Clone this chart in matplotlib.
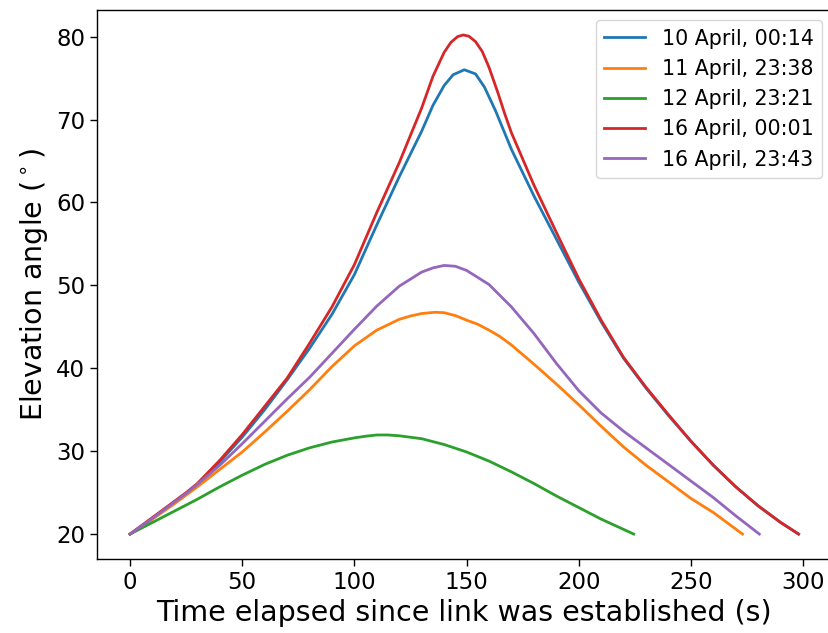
import matplotlib
matplotlib.use("Agg")
import matplotlib.pyplot as plt

# elevation angle (deg) vs time since link established (s)
t_10apr = [0, 10, 20, 25, 30, 40, 50, 60, 70, 80, 90, 100, 110, 120, 130, 135, 140, 144,
           149, 154, 158, 163, 170, 180, 190, 200, 210, 220, 230, 240, 250, 260, 270,
           280, 290, 298]
e_10apr = [20.0, 21.9, 23.9, 24.9, 26.0, 28.7, 31.7, 35.0, 38.6, 42.4, 46.5, 51.3, 57.3, 63.1,
           68.6, 71.7, 74.1, 75.4, 76.0, 75.5, 73.9, 71.0, 66.4, 60.8, 55.6, 50.4, 45.6, 41.2,
           37.6, 34.3, 31.2, 28.3, 25.7, 23.4, 21.4, 20.0]

t_11apr = [0, 10, 20, 25, 30, 40, 50, 60, 70, 80, 90, 100, 110, 120, 125, 130, 136, 140, 145,
           150, 155, 160, 165, 170, 180, 190, 200, 210, 220, 230, 240, 250, 260, 273]
e_11apr = [20.0, 21.8, 23.7, 24.7, 25.7, 27.8, 29.9, 32.3, 34.8, 37.4, 40.2, 42.7, 44.6, 45.9,
           46.3, 46.6, 46.75, 46.7, 46.35, 45.8, 45.3, 44.6, 43.8, 42.8, 40.5, 38.1, 35.6, 33.0,
           30.5, 28.3, 26.3, 24.3, 22.6, 20.0]

t_12apr = [0, 10, 20, 25, 30, 40, 50, 60, 70, 80, 90, 100, 105, 110, 115, 120, 130, 140, 150,
           160, 170, 180, 190, 200, 210, 224.5]
e_12apr = [20.0, 21.4, 22.8, 23.5, 24.2, 25.7, 27.1, 28.4, 29.5, 30.4, 31.1, 31.6, 31.8, 31.95,
           31.95, 31.85, 31.5, 30.8, 29.9, 28.8, 27.5, 26.1, 24.6, 23.2, 21.8, 20.0]

t_16apr_a = [0, 10, 20, 25, 30, 40, 50, 60, 70, 80, 90, 100, 110, 120, 130, 135, 140, 143, 146,
             148.5, 151, 154, 157, 160, 164, 167, 170, 180, 190, 200, 210, 220, 230, 240, 250,
             260, 270, 280, 290, 298]
e_16apr_a = [20.0, 22.0, 24.0, 25.0, 26.1, 28.9, 32.0, 35.4, 38.8, 43.0, 47.4, 52.5, 58.8, 64.8,
             71.4, 75.2, 78.1, 79.3, 80.0, 80.2, 80.05, 79.4, 78.2, 76.3, 73.2, 70.7, 68.4, 62.1,
             56.4, 50.8, 45.8, 41.3, 37.7, 34.4, 31.2, 28.3, 25.7, 23.4, 21.4, 20.0]

t_16apr_b = [0, 10, 20, 25, 30, 40, 50, 60, 70, 80, 90, 100, 110, 120, 130, 135, 140, 145, 150,
             160, 170, 180, 190, 200, 210, 220, 230, 240, 250, 260, 270, 280.5]
e_16apr_b = [20.0, 21.9, 23.9, 24.9, 26.0, 28.3, 30.9, 33.6, 36.3, 38.9, 41.8, 44.7, 47.5, 49.9,
             51.6, 52.1, 52.4, 52.3, 51.8, 50.1, 47.4, 44.2, 40.6, 37.3, 34.6, 32.4, 30.4, 28.4,
             26.4, 24.4, 22.2, 20.0]

passes = [
    ("10 April, 00:14", t_10apr, e_10apr),
    ("11 April, 23:38", t_11apr, e_11apr),
    ("12 April, 23:21", t_12apr, e_12apr),
    ("16 April, 00:01", t_16apr_a, e_16apr_a),
    ("16 April, 23:43", t_16apr_b, e_16apr_b),
]

fig = plt.figure(figsize=(8.29, 6.33), dpi=100)
ax = fig.add_axes([0.1166, 0.1169, 0.887, 0.8673])

for label, t, e in passes:
    ax.plot(t, e, label=label, linewidth=2.0)

ax.set_xticks([0, 50, 100, 150, 200, 250, 300])
ax.set_yticks([20, 30, 40, 50, 60, 70, 80])
ax.tick_params(labelsize=16.5, length=4.8, width=1.0)
for s in ax.spines.values():
    s.set_linewidth(1.0)

ax.set_xlabel("Time elapsed since link was established (s)", fontsize=20.5)
ax.set_ylabel(r"Elevation angle ($^\circ$)", fontsize=20.5)
ax.legend(loc="upper right", fontsize=14.8)

plt.savefig("out.png", dpi=100)
